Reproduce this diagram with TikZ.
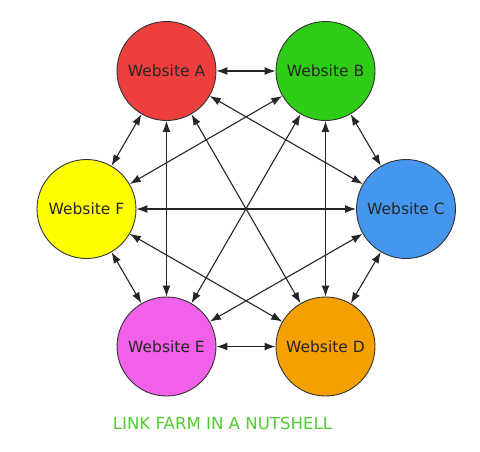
\documentclass[tikz,border=0pt]{standalone}
\usepackage{fontspec}
\setmainfont{DejaVu Sans}
\usetikzlibrary{arrows.meta}
\definecolor{cA}{RGB}{238,62,62}
\definecolor{cB}{RGB}{46,204,22}
\definecolor{cC}{RGB}{68,150,238}
\definecolor{cD}{RGB}{246,160,0}
\definecolor{cE}{RGB}{240,96,232}
\definecolor{cF}{RGB}{255,255,0}
\definecolor{titlegreen}{RGB}{82,204,50}
\begin{document}
\begin{tikzpicture}[x=1pt,y=-1pt,
  site/.style={circle,draw=black!80,line width=0.9pt,minimum size=99pt,inner sep=0pt,font=\fontsize{15.5}{17}\selectfont,text=black!85},
  link/.style={{Latex[length=11pt,width=8pt]}-{Latex[length=11pt,width=8pt]},line width=1.1pt,black!85}]
\useasboundingbox (0,0) rectangle (480,451);
\fill[white] (0,0) rectangle (480,451);
\node[site,fill=cA] (A) at (166.5,71) {Website A};
\node[site,fill=cB] (B) at (325.5,71) {Website B};
\node[site,fill=cC] (C) at (406,209) {Website C};
\node[site,fill=cD] (D) at (325.5,346.5) {Website D};
\node[site,fill=cE] (E) at (166.5,346.5) {Website E};
\node[site,fill=cF] (F) at (86.5,209) {Website F};
\foreach \p/\q in {A/B,A/C,A/D,A/E,A/F,B/C,B/D,B/E,B/F,C/D,C/E,C/F,D/E,D/F,E/F}
  \draw[link] (\p) -- (\q);
\node[text=titlegreen,font=\fontsize{16.6}{18}\selectfont] (T) at (222.5,423) {LINK FARM IN A NUTSHELL};
\end{tikzpicture}
\end{document}
